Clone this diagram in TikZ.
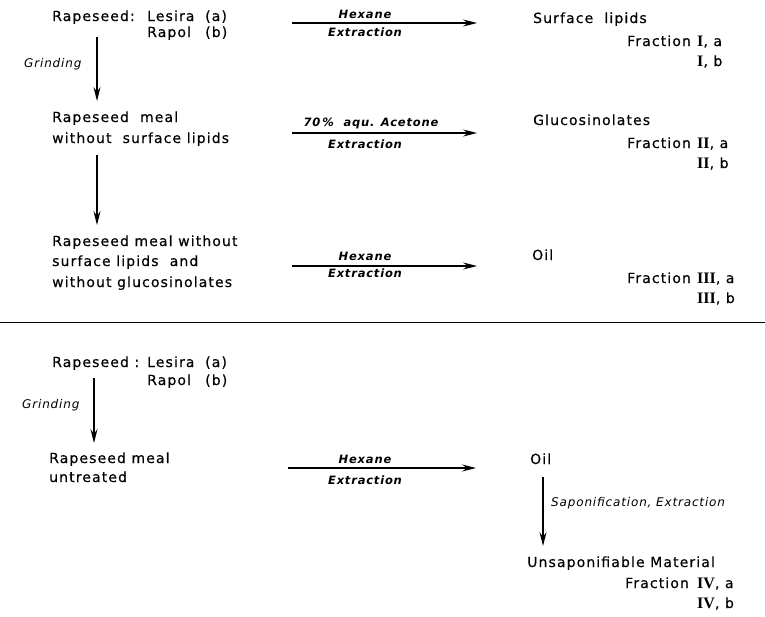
\documentclass[tikz,border=0pt]{standalone}
\usepackage{fontspec}
\setmainfont{DejaVu Sans}[LetterSpace=8,FakeBold=0.4]
\newfontfamily\lblfont{DejaVu Sans}[LetterSpace=7]
\newfontfamily\numfont{Liberation Serif}
\usetikzlibrary{arrows.meta}
\newcommand\frn[1]{{\numfont\fontsize{16}{16}\selectfont\bfseries #1}}
\tikzset{
  txt/.style={anchor=base west, inner sep=0pt, font=\fontsize{14}{16}\selectfont},
  lbl/.style={anchor=base, inner sep=0pt, font=\lblfont\fontsize{11.5}{13}\selectfont\bfseries\itshape},
  slbl/.style={anchor=base west, inner sep=0pt, font=\lblfont\fontsize{12}{13}\selectfont\itshape},
  flow/.style={line width=1.2pt, -{Stealth[length=14pt,width=7pt,inset=5pt]}}
}
\begin{document}
\begin{tikzpicture}[x=1pt,y=-1pt]
\useasboundingbox (0,0) rectangle (765,616);
\node[txt] (seedA) at (52,21) {Rapeseed:};
\node[txt] (lesA) at (147,21) {\makebox[58pt][l]{Lesira}(a)};
\node[txt] (rapA) at (147,37) {\makebox[58pt][l]{Rapol}(b)};
\coordinate (g1a) at (97,37);
\coordinate (g1b) at (97,101);
\draw[flow] (g1a) -- (g1b);
\node[slbl] (grA) at (24,67) {Grinding};
\node[txt] (mealA) at (52,122) {Rapeseed\ \ meal};
\node[txt] (mealAb) at (52,143) {without\ \ surface lipids};
\coordinate (g2a) at (97,155);
\coordinate (g2b) at (97,225);
\draw[flow] (g2a) -- (g2b);
\node[txt] (mealB) at (52,246) {Rapeseed meal without};
\node[txt] (mealBb) at (52,266) {surface lipids\ \ and};
\node[txt] (mealBc) at (52,287) {without glucosinolates};
\coordinate (h1a) at (292,23);
\coordinate (h1b) at (477,23);
\draw[flow] (h1a) -- (h1b);
\node[lbl] (hexA) at (365,18) {Hexane};
\node[lbl] (extA) at (365,36) {Extraction};
\coordinate (h2a) at (292,133);
\coordinate (h2b) at (477,133);
\draw[flow] (h2a) -- (h2b);
\node[lbl] (aceB) at (371,126) {70\,\%\ \ aqu. Acetone};
\node[lbl] (extB) at (365,148) {Extraction};
\coordinate (h3a) at (292,266);
\coordinate (h3b) at (477,266);
\draw[flow] (h3a) -- (h3b);
\node[lbl] (hexC) at (365,260) {Hexane};
\node[lbl] (extC) at (365,277) {Extraction};
\node[txt] (surf) at (533,23) {Surface\ \ lipids};
\node[txt] (fracI) at (627,46) {Fraction};
\node[txt] (Ia) at (697,46) {\frn{I}, a};
\node[txt] (Ib) at (697,66) {\frn{I}, b};
\node[txt] (gluc) at (533,125) {Glucosinolates};
\node[txt] (fracII) at (627,148) {Fraction};
\node[txt] (IIa) at (697,148) {\frn{II}, a};
\node[txt] (IIb) at (697,168) {\frn{II}, b};
\node[txt] (oilA) at (532,260) {Oil};
\node[txt] (fracIII) at (627,283) {Fraction};
\node[txt] (IIIa) at (697,283) {\frn{III}, a};
\node[txt] (IIIb) at (697,303) {\frn{III}, b};
\coordinate (ruleA) at (0,322);
\coordinate (ruleB) at (765,322);
\draw[line width=1pt] (ruleA) -- (ruleB);
\node[txt] (seedC) at (52,367) {Rapeseed :};
\node[txt] (lesC) at (147,367) {\makebox[58pt][l]{Lesira}(a)};
\node[txt] (rapC) at (147,385) {\makebox[58pt][l]{Rapol}(b)};
\coordinate (g3a) at (94,378);
\coordinate (g3b) at (94,443);
\draw[flow] (g3a) -- (g3b);
\node[slbl] (grC) at (22,408) {Grinding};
\node[txt] (mealC) at (49,463) {Rapeseed meal};
\node[txt] (mealCb) at (49,482) {untreated};
\coordinate (h4a) at (288,468);
\coordinate (h4b) at (476,468);
\draw[flow] (h4a) -- (h4b);
\node[lbl] (hexD) at (365,463) {Hexane};
\node[lbl] (extD) at (365,484) {Extraction};
\node[txt] (oilD) at (530,464) {Oil};
\coordinate (g4a) at (543,477);
\coordinate (g4b) at (543,546);
\draw[flow] (g4a) -- (g4b);
\node[slbl] (sapD) at (551,506) {Saponification, Extraction};
\node[txt] (unsap) at (527,567) {Unsaponifiable Material};
\node[txt] (fracIV) at (625,588) {Fraction};
\node[txt] (IVa) at (697,588) {\frn{IV}, a};
\node[txt] (IVb) at (697,608) {\frn{IV}, b};
\end{tikzpicture}
\end{document}
